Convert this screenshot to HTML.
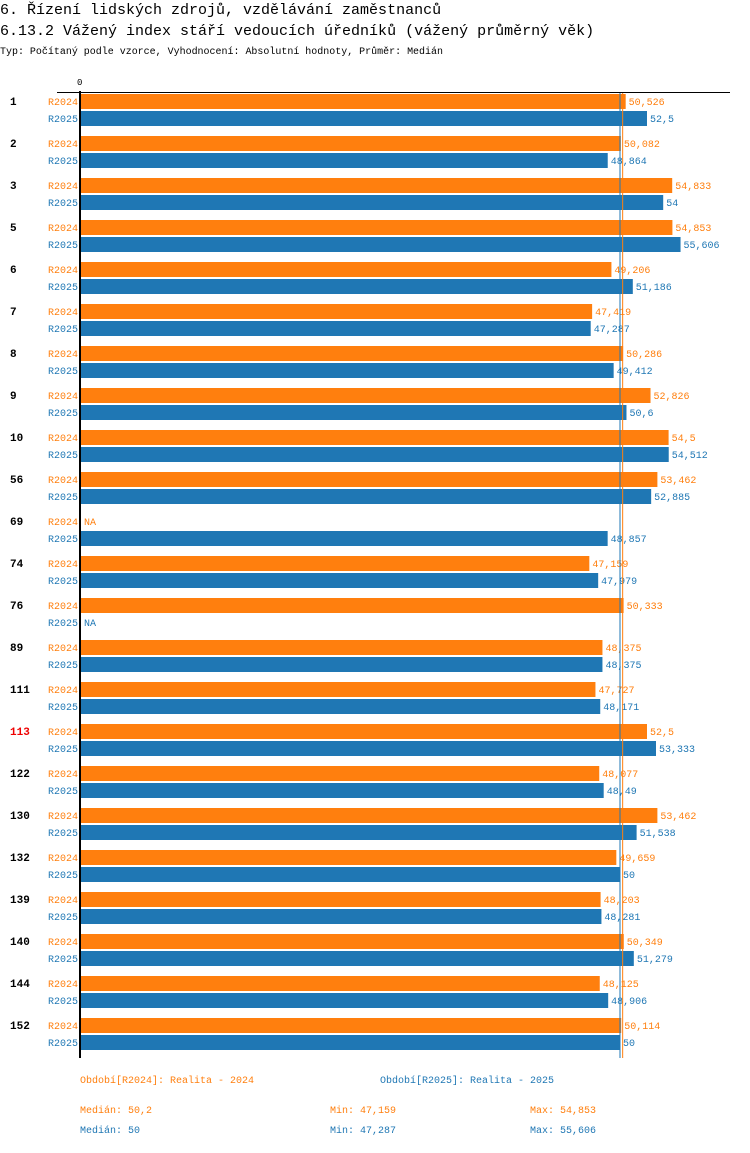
<!DOCTYPE html>
<html><head><meta charset="utf-8"><style>
body{margin:0;background:#fff;width:750px;height:1148px;overflow:hidden;font-family:"Liberation Mono",monospace}
svg text{font-family:"Liberation Mono",monospace}
</style></head><body>
<svg id="chart" width="750" height="1148" xmlns="http://www.w3.org/2000/svg">
<text x="0" y="14" font-size="15" fill="#000">6. Řízení lidských zdrojů, vzdělávání zaměstnanců</text>
<text x="0" y="35" font-size="15" fill="#000">6.13.2 Vážený index stáří vedoucích úředníků (vážený průměrný věk)</text>
<text x="0" y="54" font-size="10" textLength="443" lengthAdjust="spacingAndGlyphs" fill="#000">Typ: Počítaný podle vzorce, Vyhodnocení: Absolutní hodnoty, Průměr: Medián</text>
<text x="77" y="85" font-size="9" fill="#000">0</text>
<g id="bars"></g>
<line x1="57" y1="92.5" x2="730" y2="92.5" stroke="#000" stroke-width="1"/>
<line x1="80" y1="91" x2="80" y2="1058" stroke="#000" stroke-width="2"/>
<g id="legend"></g>
</svg>
<script>
const categories=["1","2","3","5","6","7","8","9","10","56","69","74","76","89","111","113","122","130","132","139","140","144","152"];
const r2024=[50.526,50.082,54.833,54.853,49.206,47.419,50.286,52.826,54.5,53.462,null,47.159,50.333,48.375,47.727,52.5,48.077,53.462,49.659,48.203,50.349,48.125,50.114];
const r2025=[52.5,48.864,54,55.606,51.186,47.287,49.412,50.6,54.512,52.885,48.857,47.979,null,48.375,48.171,53.333,48.49,51.538,50,48.281,51.279,48.906,50];
const highlight=["113"];
const O="#ff7f0e",B="#1f77b4",NS="http://www.w3.org/2000/svg";
const x=v=>80+v*10.8;
const fmt=v=>String(v).replace('.',',');
function el(t,a,txt){const e=document.createElementNS(NS,t);for(const k in a)e.setAttribute(k,a[k]);if(txt!=null)e.textContent=txt;return e;}
const g=document.getElementById('bars');
function med(a){const s=a.filter(v=>v!=null).sort((p,q)=>p-q);const n=s.length;return n%2?s[(n-1)/2]:(s[n/2-1]+s[n/2])/2;}
categories.forEach((c,i)=>{
  const y0=94+i*42;
  const gl=el('text',{x:10,y:y0+11,'font-size':11,'font-weight':'bold',fill:highlight.includes(c)?'#e00':'#000'},c);
  
  
  g.appendChild(gl);
  [[r2024,O,'R2024',0],[r2025,B,'R2025',17]].forEach(([arr,col,nm,off])=>{
    const y=y0+off,v=arr[i];
    const sl=el('text',{x:78,y:y+11,'font-size':10,fill:col,'text-anchor':'end'},nm);
    
    
    g.appendChild(sl);
    if(v==null){
      const na=el('text',{x:84,y:y+11,'font-size':10,fill:col},'NA');
      
      
      g.appendChild(na);return;
    }
    const r=el('rect',{x:81,y:y,width:x(v)-81,height:15,fill:col});
    
    
    g.appendChild(r);
    const vl=el('text',{x:x(v)+3,y:y+11,'font-size':10,fill:col},fmt(v));
    
    
    g.appendChild(vl);
  });
});
const m24=med(r2024),m25=med(r2025);
const l1=el('line',{x1:x(m25),y1:92,x2:x(m25),y2:1058,stroke:B,'stroke-width':1});


g.appendChild(l1);
const l2=el('line',{x1:x(m24)+0.5,y1:92,x2:x(m24)+0.5,y2:1058,stroke:O,'stroke-width':1});


g.appendChild(l2);
const lg=document.getElementById('legend');
const vals24=r2024.filter(v=>v!=null),vals25=r2025.filter(v=>v!=null);
const items=[
 [80,1083,O,'Období[R2024]: Realita - 2024','legend-r2024'],
 [380,1083,B,'Období[R2025]: Realita - 2025','legend-r2025'],
 [80,1113,O,'Medián: '+fmt(+m24.toFixed(3)),'median-r2024'],
 [330,1113,O,'Min: '+fmt(Math.min(...vals24)),'min-r2024'],
 [530,1113,O,'Max: '+fmt(Math.max(...vals24)),'max-r2024'],
 [80,1133,B,'Medián: '+fmt(+m25.toFixed(3)),'median-r2025'],
 [330,1133,B,'Min: '+fmt(Math.min(...vals25)),'min-r2025'],
 [530,1133,B,'Max: '+fmt(Math.max(...vals25)),'max-r2025']];
items.forEach(([xx,yy,col,t,n])=>{
  const e=el('text',{x:xx,y:yy,'font-size':10,fill:col},t);
  
  
  lg.appendChild(e);
});
</script>
</body></html>
